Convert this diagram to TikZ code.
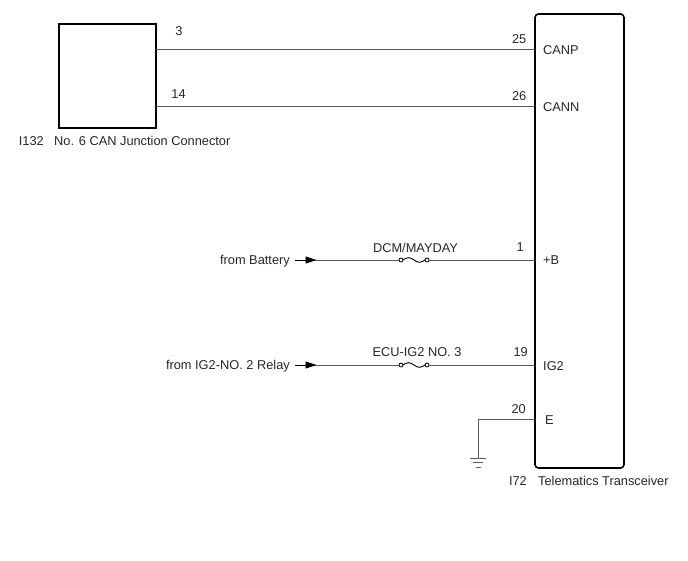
\documentclass[tikz,border=0pt]{standalone}
\usepackage{fontspec}
\setmainfont{Liberation Sans}
\usetikzlibrary{arrows.meta}
\tikzset{fusesym/.pic={
  \draw[line width=0.8pt] (-13,0) circle (2);
  \draw[line width=0.8pt] (13,0) circle (2);
  \draw[line width=0.9pt] (-11,0) sin (-5.5,-2.3) cos (0,0) sin (5.5,2.3) cos (11,0);
  \coordinate (-in) at (-15,0);
  \coordinate (-out) at (15,0);
}}
\begin{document}
\begin{tikzpicture}[x=1pt,y=-1pt]
\tikzstyle{every node}=[font=\fontsize{12.8}{15}\selectfont,inner sep=0pt,text=black!85]
\tikzstyle{wire}=[draw=black!65,line width=0.9pt]
\tikzstyle{box}=[draw,line width=1.6pt]
\tikzstyle{feed}=[-{Triangle[length=11pt,width=7pt]},draw=black,line width=0.9pt]
\tikzstyle{pinno}=[anchor=base east]
\tikzstyle{pinname}=[anchor=base west]
\useasboundingbox (0,0) rectangle (688,560);

% connectors
\node[box,minimum width=97pt,minimum height=104pt] (jc) at (107.5,76) {};
\node[box,rounded corners=3.5pt,minimum width=89pt,minimum height=454pt] (tt) at (579.5,241) {};
\node[anchor=base east] (jcid) at (44,145) {I132};
\node[anchor=base west] (jcname) at (54,145) {No. 6 CAN Junction Connector};
\node[anchor=base east] (ttid) at (527,485) {I72};
\node[anchor=base west] (ttname) at (538,485) {Telematics Transceiver};

% pins
\coordinate (p3) at (156,49);
\coordinate (p14) at (156,106);
\coordinate (p25) at (535,49);
\coordinate (p26) at (535,106);
\coordinate (p1) at (535,260);
\coordinate (p19) at (535,365);
\coordinate (p20) at (535,419);
\node[anchor=base] at (179,35) {3};
\node[anchor=base] at (178.5,98) {14};
\node[pinno] at (526.5,43) {25};
\node[pinno] at (526.5,100) {26};
\node[pinno] at (524,251) {1};
\node[pinno] at (528,356) {19};
\node[pinno] at (526,413) {20};
\node[pinname] at (543,54) {CANP};
\node[pinname] at (543,111.5) {CANN};
\node[pinname] at (543,264) {+B};
\node[pinname] at (543,370.5) {IG2};
\node[pinname] at (545,424) {E};

% CAN lines
\draw[wire] (p3) -- (p25);
\draw[wire] (p14) -- (p26);

% +B
\node[anchor=base east] (bat) at (290,264) {from Battery};
\coordinate (batin) at (295,260);
\pic (fa) at (414,260) {fusesym};
\node[anchor=base] at (415.5,252) {DCM/MAYDAY};
\draw[wire] (batin) -- (fa-in);
\draw[wire] (fa-out) -- (p1);
\draw[feed] (batin) -- (316.5,260);

% IG2
\node[anchor=base east] (rly) at (290,369.5) {from IG2-NO. 2 Relay};
\coordinate (rlyin) at (295,365);
\pic (fb) at (414,365) {fusesym};
\node[anchor=base] at (417,356) {ECU-IG2 NO. 3};
\draw[wire] (rlyin) -- (fb-in);
\draw[wire] (fb-out) -- (p19);
\draw[feed] (rlyin) -- (316.5,365);

% ground
\coordinate (gnd) at (478,458);
\draw[wire] (p20) -| (gnd);
\draw[wire] (470,458) -- (486,458);
\draw[wire] (473,462.5) -- (483,462.5);
\draw[wire] (475.5,467) -- (480.5,467);
\end{tikzpicture}
\end{document}
